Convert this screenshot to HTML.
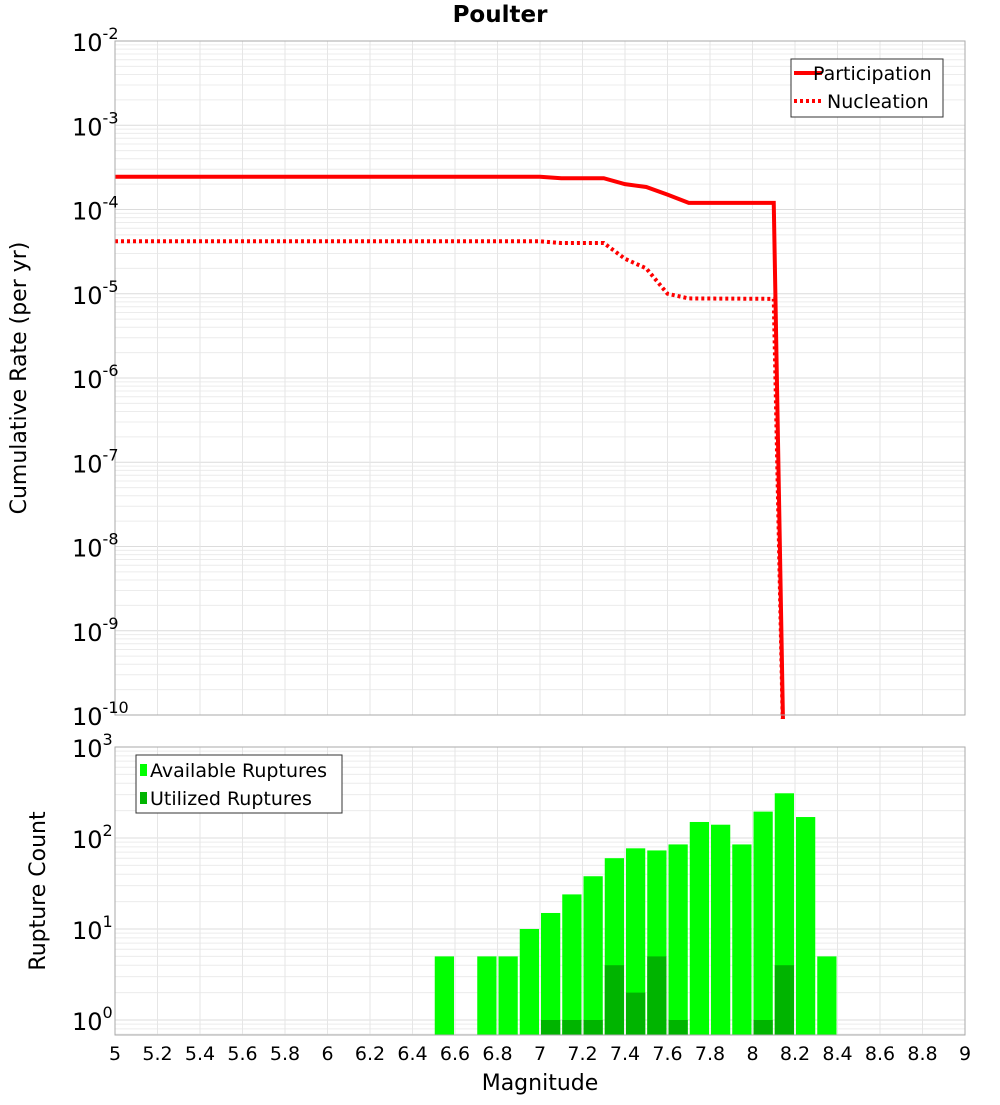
<!DOCTYPE html>
<html><head><meta charset="utf-8"><style>
body{margin:0;background:#fff;font-family:"Liberation Sans","DejaVu Sans",sans-serif}
svg text{font-family:"DejaVu Sans","Liberation Sans",sans-serif}
</style></head><body>
<svg id="c" width="1000" height="1100" xmlns="http://www.w3.org/2000/svg"></svg>
<script>
const mags=[5,7.0,7.1,7.3,7.4,7.5,7.6,7.7,8.1,8.15];
const partVals=[2.45e-4,2.45e-4,2.35e-4,2.35e-4,2.0e-4,1.85e-4,1.5e-4,1.2e-4,1.2e-4,1e-11];
const nuclVals=[4.2e-5,4.2e-5,4.0e-5,4.0e-5,2.6e-5,2.0e-5,1.0e-5,8.8e-6,8.7e-6,1e-11];
const binCenters=[6.55,6.65,6.75,6.85,6.95,7.05,7.15,7.25,7.35,7.45,7.55,7.65,7.75,7.85,7.95,8.05,8.15,8.25,8.35];
const availCounts=[5,0,5,5,10,15,24,38,60,77,73,85,150,140,85,195,310,170,5];
const usedCounts=[0,0,0,0,0,1,1,1,4,2,5,1,0,0,0,1,4,0,0];
const xTicks=[5,5.2,5.4,5.6,5.8,6,6.2,6.4,6.6,6.8,7,7.2,7.4,7.6,7.8,8,8.2,8.4,8.6,8.8,9];
const topExps=[-2,-3,-4,-5,-6,-7,-8,-9,-10];
const botExps=[3,2,1,0];

const NS="http://www.w3.org/2000/svg",svg=document.getElementById('c');
function el(t,a,p){const e=document.createElementNS(NS,t);for(const k in a)e.setAttribute(k,a[k]);(p||svg).appendChild(e);return e;}
const L=115,R=965;
const xs=m=>L+(m-5)/4*(R-L);
const T0=41,T1=715;
const yt=v=>T0+(-2-Math.log10(v))*(T1-T0)/8;
const B0=747,B1=1035,dec=91;
const yb=v=>B0+(3-Math.log10(v))*dec;

function grid(top,bot,ymap,lo,hi){
  for(let e=lo;e<hi;e++)for(let k=1;k<10;k++){const y=ymap(k*Math.pow(10,e));if(y>=top&&y<=bot){
    const g=el('line',{x1:L,x2:R,y1:y,y2:y,stroke:k==1?'#dcdcdc':'#ececec','stroke-width':1});
    }}
  xTicks.forEach(t=>{const x=xs(t);const g=el('line',{x1:x,x2:x,y1:top,y2:bot,stroke:'#e6e6e6'});
    });
}
grid(T0,T1,yt,-10,-2);
grid(B0,B1,yb,-1,3);

const ti=el('text',{x:500,y:22,'text-anchor':'middle','font-size':23,'font-weight':'bold'});ti.textContent='Poulter';


const clip=el('clipPath',{id:'tc'});el('rect',{x:L,y:T0,width:R-L,height:T1-T0+4},clip);
function line(vals,dash,name){const p=el('polyline',{points:mags.map((m,i)=>xs(m)+','+yt(vals[i])).join(' '),fill:'none',stroke:'#ff0000','stroke-width':4,'stroke-dasharray':dash,'clip-path':'url(#tc)'});
  }
line(nuclVals,'3,3','nucleation-line');
line(partVals,'none','participation-line');

binCenters.forEach((c,i)=>{const x=xs(c-0.05)+1,w=xs(0.1)-xs(0)-2;
  if(availCounts[i]>0){const b=el('rect',{x:x,y:yb(availCounts[i]),width:w,height:B1-yb(availCounts[i]),fill:'#00ff00'});
    }
  if(usedCounts[i]>0){const b=el('rect',{x:x,y:yb(usedCounts[i]),width:w,height:B1-yb(usedCounts[i]),fill:'#00b400'});
    }
});

el('rect',{x:L,y:T0,width:R-L,height:T1-T0,fill:'none',stroke:'#aaa'});
el('rect',{x:L,y:B0,width:R-L,height:B1-B0,fill:'none',stroke:'#aaa'});

topExps.forEach(e=>{const y=yt(Math.pow(10,e));const t=el('text',{x:72,y:y+10,'font-size':24});
  t.innerHTML='10<tspan dy="-12" font-size="16">'+e+'</tspan>';});
botExps.forEach(e=>{const y=yb(Math.pow(10,e));const t=el('text',{x:72,y:y+10,'font-size':24});
  t.innerHTML='10<tspan dy="-12" font-size="16">'+e+'</tspan>';});
xTicks.forEach(v=>{const t=el('text',{x:xs(v),y:1060,'text-anchor':'middle','font-size':19});t.textContent=String(+v.toFixed(1));
  });

let a=el('text',{x:540,y:1090,'text-anchor':'middle','font-size':22});a.textContent='Magnitude';
a=el('text',{x:26,y:378,'text-anchor':'middle','font-size':22,transform:'rotate(-90 26 378)'});a.textContent='Cumulative Rate (per yr)';
a=el('text',{x:45,y:891,'text-anchor':'middle','font-size':22,transform:'rotate(-90 45 891)'});a.textContent='Rupture Count';

let g=el('g',{});
el('rect',{x:791,y:59,width:152,height:58,fill:'#fff',stroke:'#333'},g);
el('line',{x1:794,x2:822,y1:73,y2:73,stroke:'#f00','stroke-width':4},g);
el('line',{x1:794,x2:822,y1:101,y2:101,stroke:'#f00','stroke-width':4,'stroke-dasharray':'3,3'},g);
let t=el('text',{x:813,y:80,'font-size':19},g);t.textContent='Participation';
t=el('text',{x:827,y:108,'font-size':19},g);t.textContent='Nucleation';
g=el('g',{});
el('rect',{x:136,y:755,width:206,height:58,fill:'#fff',stroke:'#333'},g);
el('rect',{x:140,y:764,width:7,height:12,fill:'#00ff00'},g);
el('rect',{x:140,y:792,width:7,height:12,fill:'#00b400'},g);
t=el('text',{x:150,y:777,'font-size':19},g);t.textContent='Available Ruptures';
t=el('text',{x:150,y:805,'font-size':19},g);t.textContent='Utilized Ruptures';
</script>
</body></html>
